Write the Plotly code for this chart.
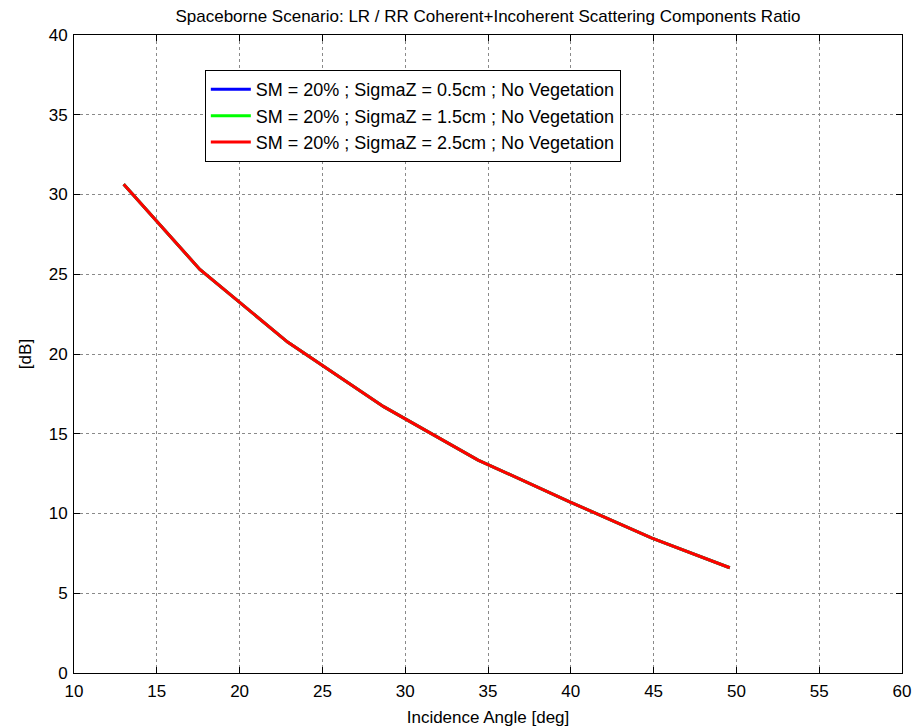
import plotly.graph_objects as go

angles = [13.0, 17.6, 22.9, 28.7, 34.4, 39.9, 44.9, 49.6]
ratio_05 = [30.65, 25.3, 20.75, 16.7, 13.35, 10.75, 8.45, 6.6]
ratio_15 = [30.65, 25.3, 20.75, 16.7, 13.35, 10.75, 8.45, 6.6]
ratio_25 = [30.65, 25.3, 20.75, 16.7, 13.35, 10.75, 8.45, 6.6]

names = [
    "SM = 20% ; SigmaZ = 0.5cm ; No Vegetation",
    "SM = 20% ; SigmaZ = 1.5cm ; No Vegetation",
    "SM = 20% ; SigmaZ = 2.5cm ; No Vegetation",
]
colors = ["#0000ff", "#00ff00", "#ff0000"]
series = [ratio_05, ratio_15, ratio_25]

xticks = [10, 15, 20, 25, 30, 35, 40, 45, 50, 55, 60]
yticks = [0, 5, 10, 15, 20, 25, 30, 35, 40]

fig = go.Figure()
for n, c, s in zip(names, colors, series):
    fig.add_trace(go.Scatter(x=angles, y=s, mode="lines", name=n,
                             line=dict(color=c, width=3)))

font = "Liberation Sans, Arial, Helvetica, sans-serif"
axis_common = dict(
    showline=True, linecolor="black", linewidth=1, mirror="ticks",
    ticks="inside", ticklen=6, tickcolor="black",
    showgrid=True, gridcolor="#8a8a8a", griddash="dot", gridwidth=1,
    zeroline=False, automargin=False,
    tickfont=dict(size=17, color="black", family=font),
)

fig.update_layout(
    width=923, height=727,
    margin=dict(l=74, r=21, t=35, b=54),
    paper_bgcolor="white", plot_bgcolor="white",
    font=dict(family=font, color="black"),
    title=dict(text="Spaceborne Scenario: LR / RR Coherent+Incoherent Scattering Components Ratio",
               x=(74 + 902) / 2 / 923, xanchor="center", y=1 - 16 / 727, yanchor="middle",
               font=dict(size=17, color="black", family=font)),
    xaxis=dict(range=[10, 60], tickvals=xticks, ticklabelstandoff=3,
               title=dict(text="Incidence Angle [deg]", font=dict(size=17, family=font), standoff=10),
               **axis_common),
    yaxis=dict(range=[0, 40], tickvals=yticks, ticklabelstandoff=2,
               title=dict(text="[dB]", font=dict(size=17, family=font), standoff=12),
               **axis_common),
    legend=dict(x=0.158, y=0.945, xanchor="left", yanchor="top",
                bgcolor="white", bordercolor="black", borderwidth=1,
                font=dict(size=18, color="black", family=font),
                tracegroupgap=0, itemwidth=40),
    showlegend=True,
)

fig.write_html("out.html")
